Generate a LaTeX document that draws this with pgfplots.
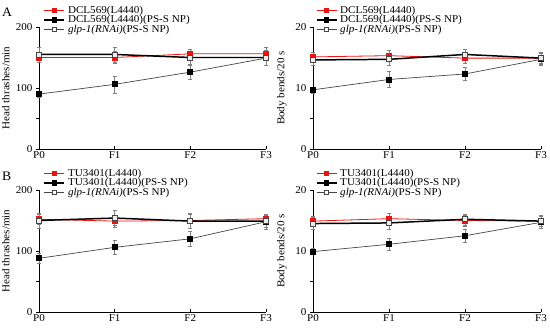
\documentclass[border=0pt]{standalone}
\usepackage{pgfplots}
\pgfplotsset{compat=1.18}
\usepackage{fontspec}
\setmainfont{Liberation Serif}[FakeStretch=1.06]
\definecolor{myred}{RGB}{235,20,20}
\definecolor{mygray}{RGB}{70,70,70}
\pgfplotsset{
 panel/.style={
  scale only axis, width=227bp, height=122bp,
  xmin=0, xmax=3, xtick={0,1,2,3}, xticklabels={P0,F1,F2,F3},
  axis x line*=bottom, axis y line*=left,
  axis line style={line width=0.8pt},
  xtick align=inside, ytick align=outside,
  major tick length=3bp,
  tick style={black, line width=0.6pt},
  tick label style={font=\fontsize{10.5}{10.5}\selectfont},
  xticklabel style={yshift=1bp},
  /pgf/number format/assume math mode=true,
  ymin=0, clip=false,
  label style={font=\fontsize{10.5}{10.5}\selectfont},
  legend style={draw=none, fill=none, font=\fontsize{10.5}{10.5}\selectfont,
     at={(0.02,1.175)}, anchor=north west, row sep=0pt, inner sep=0pt,
     nodes={inner ysep=0pt, inner xsep=3bp, text height=7.2bp, text depth=2.3bp}},
  legend cell align=left,
  legend image code/.code={\draw[mark repeat=2,mark phase=2,##1] plot coordinates {(0bp,0bp) (10bp,0bp) (20bp,0bp)};},
 },
 headax/.style={ymax=200, ytick={0,50,100,150,200}, yticklabels={0,,100,,200},
   ylabel={Head thrashes/min}, ylabel style={at={(axis description cs:-0.115,0.5)}, anchor=south}},
 bodyax/.style={ymax=20, ytick={0,5,10,15,20}, yticklabels={0,,10,,20},
   ylabel={Body bends/20 s}, ylabel style={at={(axis description cs:-0.10,0.5)}, anchor=south}},
 sred/.style={color=myred, line width=0.8pt, mark=square*, mark size=2.5bp, mark options={solid, fill=myred, draw=myred}},
 sblack/.style={color=black, line width=1.5pt, mark=square*, mark size=2.5bp, mark options={solid, line width=0.7pt, fill=white!85!gray, draw=mygray}},
 slow/.style={color=mygray, line width=0.7pt, mark=square*, mark size=2.5bp, mark options={solid, fill=black, draw=black}},
 ebar/.style={error bars/y dir=both, error bars/y explicit, error bars/error bar style={gray, line width=0.5pt}, error bars/error mark options={rotate=90, mark size=2bp, gray, line width=0.5pt}},
 lgA/.style={color=myred, line width=0.8pt, mark=square*, mark size=2bp, mark options={fill=myred}},
 lgB/.style={color=black, line width=1.3pt, mark=square*, mark size=2bp, mark options={fill=black}},
 lgC/.style={color=mygray, line width=0.8pt, mark=square*, mark size=2bp, mark options={fill=white, draw=mygray, line width=0.6pt}},
}
\begin{document}
\begin{tikzpicture}
\useasboundingbox (0bp,0bp) rectangle (550bp,332bp);
\node[anchor=north west, inner sep=0pt, font=\fontsize{13}{13}\selectfont] at (2bp,324bp) {A};
\node[anchor=north west, inner sep=0pt, font=\fontsize{13}{13}\selectfont] at (2bp,160bp) {B};
% A left
\begin{axis}[panel, headax, at={(39bp,183bp)}, anchor=south west]
\addlegendimage{lgA}\addlegendentry{DCL569(L4440)}
\addlegendimage{lgB}\addlegendentry{DCL569(L4440)(PS-S NP)}
\addlegendimage{lgC}\addlegendentry{\textit{glp-1(RNAi)}(PS-S NP)}
\addplot[forget plot, sred, ebar] table[x=x, y=y, y error=e] {
x y e
0 150 8
1 150 10
2 156 8
3 156 10
};
\addplot[forget plot, slow, ebar] table[x=x, y=y, y error=e] {
x y e
0 90 5
1 106 14
2 126 11
3 149 12
};
\addplot[forget plot, sblack, ebar] table[x=x, y=y, y error=e] {
x y e
0 155 12
1 155 12
2 150 11
3 150 12
};
\end{axis}
% A right
\begin{axis}[panel, bodyax, width=228bp, at={(313bp,183bp)}, anchor=south west, legend style={at={(0.012,1.175)}}]
\addlegendimage{lgA}\addlegendentry{DCL569(L4440)}
\addlegendimage{lgB}\addlegendentry{DCL569(L4440)(PS-S NP)}
\addlegendimage{lgC}\addlegendentry{\textit{glp-1(RNAi)}(PS-S NP)}
\addplot[forget plot, sred, ebar] table[x=x, y=y, y error=e] {
x y e
0 15.1 0.8
1 15.3 0.9
2 14.9 0.8
3 14.9 0.8
};
\addplot[forget plot, slow, ebar] table[x=x, y=y, y error=e] {
x y e
0 9.7 0.5
1 11.4 1.3
2 12.3 1.1
3 14.7 1.0
};
\addplot[forget plot, sblack, ebar] table[x=x, y=y, y error=e] {
x y e
0 14.6 0.9
1 14.7 1.0
2 15.5 0.9
3 14.9 1.0
};
\end{axis}
% B left
\begin{axis}[panel, headax, at={(39bp,20bp)}, anchor=south west]
\addlegendimage{lgA}\addlegendentry{TU3401(L4440)}
\addlegendimage{lgB}\addlegendentry{TU3401(L4440)(PS-S NP)}
\addlegendimage{lgC}\addlegendentry{\textit{glp-1(RNAi)}(PS-S NP)}
\addplot[forget plot, sred, ebar] table[x=x, y=y, y error=e] {
x y e
0 152 8
1 149 10
2 150 12
3 153 8
};
\addplot[forget plot, slow, ebar] table[x=x, y=y, y error=e] {
x y e
0 88 8
1 106 12
2 120 12
3 148 12
};
\addplot[forget plot, sblack, ebar] table[x=x, y=y, y error=e] {
x y e
0 150 12
1 154 12
2 149 12
3 149 10
};
\end{axis}
% B right
\begin{axis}[panel, bodyax, width=228bp, at={(313bp,20bp)}, anchor=south west, legend style={at={(0.012,1.175)}}]
\addlegendimage{lgA}\addlegendentry{TU3401(L4440)}
\addlegendimage{lgB}\addlegendentry{TU3401(L4440)(PS-S NP)}
\addlegendimage{lgC}\addlegendentry{\textit{glp-1(RNAi)}(PS-S NP)}
\addplot[forget plot, sred, ebar] table[x=x, y=y, y error=e] {
x y e
0 14.9 0.8
1 15.3 0.9
2 15.0 0.9
3 14.9 0.8
};
\addplot[forget plot, slow, ebar] table[x=x, y=y, y error=e] {
x y e
0 9.9 0.5
1 11.1 1.0
2 12.5 1.0
3 14.7 1.0
};
\addplot[forget plot, sblack, ebar] table[x=x, y=y, y error=e] {
x y e
0 14.5 1.0
1 14.6 1.0
2 15.2 0.9
3 14.9 0.9
};
\end{axis}
\end{tikzpicture}
\end{document}
